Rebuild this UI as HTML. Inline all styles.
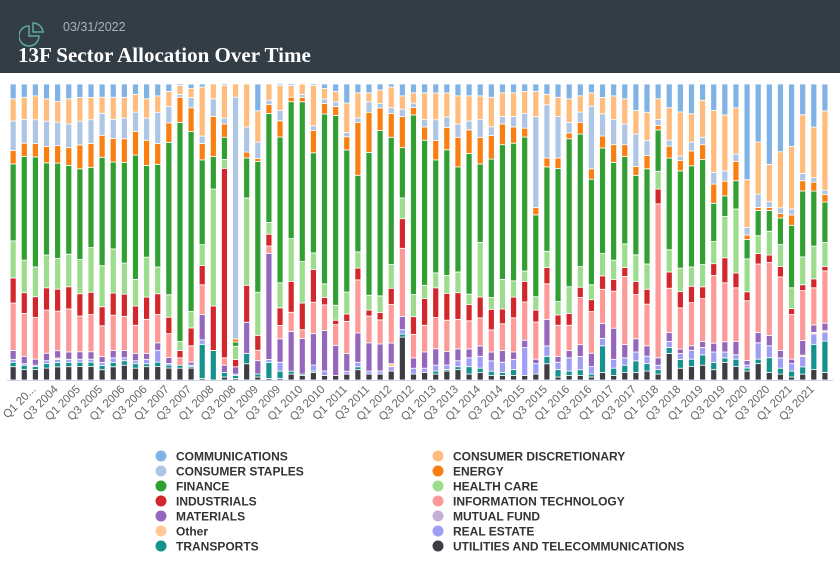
<!DOCTYPE html>
<html><head><meta charset="utf-8"><style>
body{margin:0;width:840px;height:564px;background:#fff;overflow:hidden;font-family:"Liberation Sans",sans-serif}
#hdr{position:absolute;left:0;top:0;width:840px;height:73px;background:#323d46}
#date{position:absolute;left:63px;top:20px;font-size:12.5px;color:#a9b3bb}
#title{position:absolute;left:18px;top:43px;font-family:"Liberation Serif",serif;font-weight:bold;font-size:21px;color:#fff}
svg{position:absolute;left:0;top:0}
</style></head><body>
<div id="hdr">
<svg width="50" height="50" style="left:19px;top:21px"><path d="M10 5 A10 10 0 1 0 20 15 L10 15 Z" fill="none" stroke="#5fa89c" stroke-width="1.5"/><path d="M14 2 A10 10 0 0 1 24 11 L14 11 Z" fill="none" stroke="#5fa89c" stroke-width="1.5"/></svg>
<div id="date">03/31/2022</div>
<div id="title">13F Sector Allocation Over Time</div>
</div>
<svg id="chart" width="840" height="564" style="top:0"></svg>
<script>
const seriesNames=["COMMUNICATIONS","CONSUMER DISCRETIONARY","CONSUMER STAPLES","ENERGY","FINANCE","HEALTH CARE","INDUSTRIALS","INFORMATION TECHNOLOGY","MATERIALS","MUTUAL FUND","Other","REAL ESTATE","TRANSPORTS","UTILITIES AND TELECOMMUNICATIONS"];
const seriesColors=["#7fb2e5","#ffbc7c","#aec6e6","#fa7f12","#319f32","#9cdd8d","#d2272b","#fd9a98","#9467bd","#c5b0d5","#ffc896","#9e9ef5","#15918e","#3d3d43"];
const communications=[5,4.5,4,5,6,5,4.5,4.5,4.5,4.5,4.5,3.5,5,4,2.5,0.5,1.5,1,0,0.5,0,0,9,0,0.5,0.5,0,0.5,1.5,2.5,6.5,3,3,2,1,4,3,3,3,3,4,4,4,4.5,3,3,2.5,2.5,3.5,4.5,5,4,3,4.5,4,5,9,9.5,5,8,9.5,10,5.5,9,10.5,8,32,19.5,27,23,21,10.5,14.5,9];
const consumerDiscretionary=[7.5,7.5,8,7.5,7,8.5,8,7.5,5.5,7.5,7,6,6.5,5.5,5,3,3,16.5,5,11,4.5,14.5,10.5,5.5,8.5,4,3.5,13.5,3.5,3.5,10,8.5,3,4.5,7,4.5,3.5,9,9,8,9.5,8.5,8,10,8,8,7.5,8.5,3.5,6.5,8,5.5,4.5,5.5,8,8.5,8,9.5,7,11,15,9.5,12.5,21,19,15.5,16,17.5,12.5,19,21,20,17,26.5];
const consumerStaples=[10,8,8,8.5,8,8,8,8,7.5,6.5,7,6.5,7.5,10.5,5.5,1,3.5,2.5,6,2,82.5,8.5,5.5,1.5,3.5,0,1,1.5,1.5,1.5,1.5,1.5,3.5,1.5,2,2.5,1.5,2.5,7,3.5,4.5,3,6,3,2.5,3.5,5,30.5,18,14,3.5,3.5,21,7.5,8.5,7,11,5,2,2,1.5,3,2.5,4,3.5,2.5,2.5,4.5,2,2,2,2.5,1.5,1.5];
const energy=[4.5,4.5,4.5,5.5,6,6,8,8,7.5,8,8,8,8.5,7,6.5,8.5,8,5.5,13.5,4.5,1,2,1,3,5.5,1.5,1.5,7.5,3.5,3,4.5,18,13.5,7.5,8,10.5,2.5,4.5,6.5,7.5,10,8,9,8,7,5.5,3,2.5,3,3.5,2,4,3.5,4,6,4,3,4.5,1.5,4,3.5,5,5,6.5,5,6.5,1.5,1,1,1.5,3.5,3.5,3,2.5];
const finance=[26,35,37,31,32.5,30,30.5,27,37,29.5,34,42,31,34.5,51,74,60.5,28.5,11,7.5,1.5,13.5,44,37,49.5,46.5,54,33.5,56.5,63.5,48.5,26,48,55,43,17,61,49,38,42,35.5,47.5,26.5,47,45.5,46.5,45.5,27.5,28.5,45,50,45,35.5,35.5,33,29.5,27,32,14,31,33,34,35.5,13,7,9.5,6.5,8.5,7,9,21,22.5,18.5,13.5];
const healthCare=[12.5,11,10,11,10.5,11,11.5,15,14,15,10.5,9,13.5,9,7.5,3,5.5,7,39.5,3,4.5,29.5,14.5,4,8.5,14.5,14,5.5,4.5,5,7.5,5.5,5,5.5,8,7,7.5,4.5,5,6,7,3.5,18.5,4,10,5.5,3.5,4.5,5.5,4.5,9,7,5,7.5,6.5,8,9,8.5,6,7.5,8,6.5,7.5,7.5,14,21.5,11,6,8,7.5,7,9.5,11,8];
const industrials=[8.5,7,7,7.5,7.5,7.5,7.5,7.5,6.5,7.5,7.5,6.5,7.5,7,5.5,2.5,6,6.5,15,64,2.5,12.5,5,4,6,10.5,9,11,2.5,1.5,2.5,4,2,2.5,5.5,10,6,9,10,9,9,5.5,7,7,5,7,7,4,5.5,3.5,4,3.5,4,4.5,4,3,4.5,5,5,5.5,5.5,5.5,4,4,8.5,5,3,3.5,2.5,3.5,2,2,3,1.5];
const informationTechnology=[16,14.5,14,14.5,13.5,14.5,12,12.5,10.5,12,11.5,9.5,11.5,9.5,8,2.5,5.5,10,0,2.5,0,0,3.5,2.5,4.5,6.5,3,10.5,8.5,7,11,18,9,8,13,23,8,9,10.5,10.5,10,9.5,9.5,7.5,9,11.5,13,12.5,12,10.5,8.5,16,14,11.5,12.5,23,15,14,52,15,14,14.5,14.5,23,20,18,20,23,24.5,25,15,17,12.5,17.5];
const materials=[3,2.5,2,2.5,2.5,2.5,2.5,2.5,2,2.5,2.5,2.5,2,2.5,2,0,1,8.5,0,2.5,2.5,10.5,4.5,36,8,13.5,12,10.5,13.5,10,6,10,9.5,9,7,4.5,3.5,5.5,5.5,4.5,4,3,3.5,3,4,2.5,2.5,1.5,9,2,2.5,4,4.5,5,10.5,4.5,4.5,3.5,2.5,3,1.5,1.5,2,3,3.5,4.5,1.5,3.5,3.5,2.5,1.5,5,2.5,2.5];
const mutualFund=[0,0,0,0,0,0,0,0,0,0,0,0,0,0,0,0,0,0,0,0,0,0,0,0,0,0,0,0,0,0,0,0,0,0,0,0,0,0,0,0,0,0,0,0,0,0,0,0,0,0,0,0,0,0,0,0,0,0,0,0,0,0,0,0,0,0,0,0,0,0,0,0,0,0];
const other=[0,0,0,0,0.5,0,0,0,0,0,0,0,0,0,0,0,0,0,0,0,0,0,0,0,0,0,0,0,0,0,0,0,0,0,1,0,0,0,0,0,0,0,0,0,0,0,0,0,0,0,0,0,0,0,0,0,0,0,0,0,0,0,0,0,0,0,0,0,0,0,0,0.5,0.5,0.5];
const realEstate=[1,0.5,0.5,1,1,1,1,1,1,1.5,1,1,1.5,4,0.5,0,0.5,1.5,0,0,0.5,0,0,1,3,0,0,2,1.5,0,1,1.5,1,1,1.5,1.5,2,1.5,2,1.5,2,3,4,3.5,3.5,3.5,9.5,3.5,3.5,2.5,4.5,4.5,2.5,2.5,3,2.5,3,2.5,1.5,2,2,3,2.5,3.5,2,1.5,1,5.5,4,3.5,2.5,3.5,3.5,3];
const transports=[1.5,1.5,1,1.5,1.5,1.5,1.5,1.5,1.5,1.5,1.5,1.5,1,1.5,1,1,0.5,11.5,10,1.5,1,3.5,1,5.5,2.5,1,0.5,0.5,0,0,0,1,0,0,0,1,0,0,1,0.5,1,2.5,1.5,1.5,1,2,0,0,2.5,2.5,1.5,2,1,9,2.5,2.5,4,2.5,1.5,2,3,2.5,3.5,2.5,1.5,2.5,1,1.5,5,2,2,2.5,8.5,10.5];
const utilities=[4.5,3.5,3.5,4,4.5,4.5,4.5,4.5,3.5,4.5,5,4,4.5,4.5,4,4,4,0.5,0,1,0.5,5.5,1,0.5,0.5,2,1.5,2.5,1.5,1.5,2,3.5,2,2,3,14.5,2,2.5,2,3,3.5,2,2.5,1.5,1.5,1.5,1.5,2,5.5,1,1.5,1.5,1,2.5,1.5,2.5,2.5,3,2,9,4,4.5,5,3.5,6,4.5,3,5.5,2.5,2,1,2,3.5,2.5];
const seriesData=[communications,consumerDiscretionary,consumerStaples,energy,finance,healthCare,industrials,informationTechnology,materials,mutualFund,other,realEstate,transports,utilities];
const categories=[];
for(let y=2003;y<=2021;y++)for(let q=1;q<=4;q++){if(y===2003&&q<3)continue;categories.push("Q"+q+" "+y);}
const tickLabels=categories.map((c,i)=>(i%2===0&&i>0)?(i===2?"Q1 20...":c):null);

const NS="http://www.w3.org/2000/svg";
const svg=document.getElementById('chart');
const plotLeft=7.6,plotTop=84,plotBottom=380,step=11.12,barW=6;
function xCenter(i){return plotLeft+step*(i+0.5);}
function yScale(p){return plotBottom-(plotBottom-plotTop)*p/100;}
function mk(tag,attrs){const e=document.createElementNS(NS,tag);for(const k in attrs)e.setAttribute(k,attrs[k]);return e;}

categories.forEach((cat,i)=>{
  let total=0;seriesData.forEach(s=>total+=s[i]);
  let cum=0;
  const g=mk('g',{});
  
  
  for(let k=seriesData.length-1;k>=0;k--){
    const v=seriesData[k][i];if(!v)continue;
    const p0=cum/total*100,p1=(cum+v)/total*100;cum+=v;
    const r=mk('rect',{x:xCenter(i)-barW/2,y:yScale(p1),width:barW,height:Math.max(0,yScale(p0)-yScale(p1)),fill:seriesColors[k],stroke:'#fff','stroke-width':0.8});
    
    
    g.appendChild(r);
  }
  svg.appendChild(g);
});
const axis=mk('line',{x1:7,x2:833,y1:380.5,y2:380.5,stroke:'#ccd6eb','stroke-width':1});


svg.appendChild(axis);
tickLabels.forEach((t,i)=>{
  if(!t)return;
  const x=xCenter(i)+1,y=390;
  const tx=mk('text',{x:x,y:y,transform:`rotate(-45 ${x} ${y})`,'text-anchor':'end','font-size':'11.5',fill:'#666','font-family':'Liberation Sans, sans-serif'});
  tx.textContent=t;
  
  
  svg.appendChild(tx);
});
seriesNames.forEach((n,k)=>{
  const col=k%2,row=Math.floor(k/2);
  const cx=col?438:161,cy=456+row*15;
  const g=mk('g',{});
  
  
  g.appendChild(mk('circle',{cx:cx,cy:cy,r:5.5,fill:seriesColors[k]}));
  const tx=mk('text',{x:cx+15,y:cy+4.5,'font-size':'12','font-weight':'bold',fill:'#333','font-family':'Liberation Sans, sans-serif'});
  tx.textContent=n;g.appendChild(tx);
  svg.appendChild(g);
});
</script>
</body></html>
